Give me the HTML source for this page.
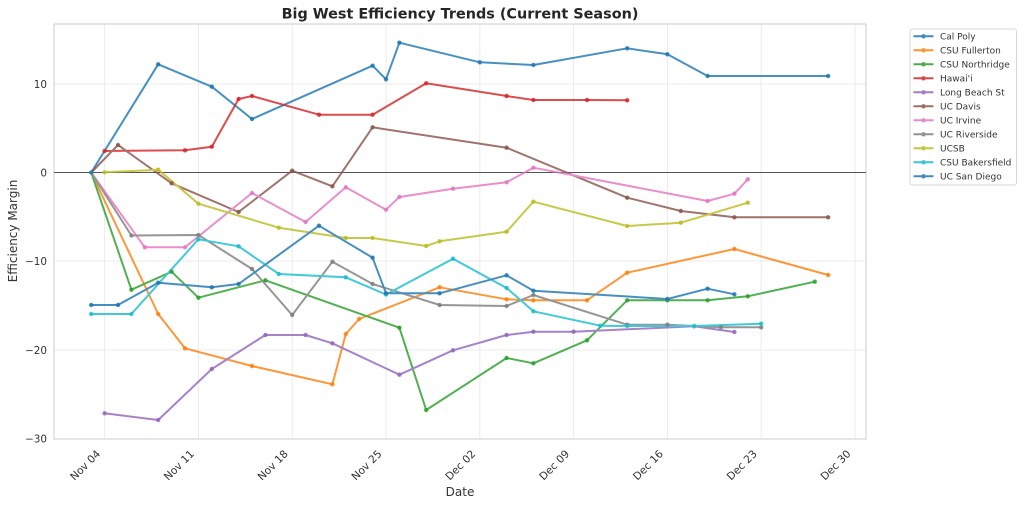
<!DOCTYPE html>
<html><head><meta charset="utf-8"><style>
html,body{margin:0;padding:0;background:#fff;}
svg{display:block;font-family:"DejaVu Sans","Liberation Sans",sans-serif;}
</style></head><body>
<svg width="1024" height="506" viewBox="0 0 1024 506" xmlns="http://www.w3.org/2000/svg">
<rect width="1024" height="506" fill="#fff"/>
<!-- grid -->
<g stroke="#ebebeb" stroke-width="1">
<line x1="104.6" y1="24" x2="104.6" y2="439"/>
<line x1="198.4" y1="24" x2="198.4" y2="439"/>
<line x1="292.2" y1="24" x2="292.2" y2="439"/>
<line x1="386" y1="24" x2="386" y2="439"/>
<line x1="479.8" y1="24" x2="479.8" y2="439"/>
<line x1="573.6" y1="24" x2="573.6" y2="439"/>
<line x1="667.4" y1="24" x2="667.4" y2="439"/>
<line x1="761.2" y1="24" x2="761.2" y2="439"/>
<line x1="855" y1="24" x2="855" y2="439"/>
<line x1="54" y1="84" x2="866" y2="84"/>
<line x1="54" y1="261" x2="866" y2="261"/>
<line x1="54" y1="350" x2="866" y2="350"/>
</g>
<rect x="54" y="24" width="812" height="415" fill="none" stroke="#d6d6d6" stroke-width="1.2"/>
<line x1="54" y1="172.5" x2="866" y2="172.5" stroke="#555" stroke-width="1"/>
<!-- series -->
<g fill="none" stroke-width="2" stroke-linejoin="round" stroke-linecap="round" opacity="0.82">
<polyline stroke="#1f77b4" points="91.2,172.5 158.2,64.3 211.8,86.7 252,119 372.6,65.7 386,79.3 399.4,42.7 479.8,62.3 533.4,65 627.2,48.3 667.4,54.3 707.6,76 828.2,76"/>
</g>
<g fill="none" stroke-width="2" stroke-linejoin="round" stroke-linecap="round" opacity="0.82">
<polyline stroke="#ff7f0e" points="91.2,172.5 158.2,314 185,348.3 252,366 332.4,384.3 345.8,334 359.2,319 439.6,287.3 506.6,299.3 533.4,300.3 587,300.3 627.2,272.7 734.4,249 828.2,275"/>
<polyline stroke="#2ca02c" points="91.2,172.5 131.4,289.7 171.6,271.7 198.4,297.7 265.4,280.3 399.4,327.7 426.2,410 506.6,358 533.4,363.3 587,340.3 627.2,300.3 667.4,300.3 707.6,300.3 747.8,296.3 814.8,281.7"/>
<polyline stroke="#d62728" points="104.6,151 185,150.3 211.8,146.7 238.6,99 252,96 319,114.7 372.6,114.7 426.2,83.3 506.6,96 533.4,100 587,100 627.2,100.3"/>
<polyline stroke="#9467bd" points="104.6,413.3 158.2,420 211.8,369 265.4,335 305.6,335 332.4,343.3 399.4,374.7 453,350.3 506.6,335 533.4,331.7 573.6,331.7 694.2,326.3 734.4,332"/>
<polyline stroke="#8c564b" points="91.2,172.5 118,145 171.6,183.3 238.6,212 292.2,170.7 332.4,186.3 372.6,127.3 506.6,147.7 627.2,197.7 680.8,211 734.4,217.3 828.2,217.3"/>
<polyline stroke="#e377c2" points="91.2,172.5 144.8,247.3 185,247.3 252,193 305.6,222 345.8,187.3 386,209.7 399.4,197 453,188.7 506.6,182.3 533.4,167.7 707.6,201 734.4,193.7 747.8,179.3"/>
<polyline stroke="#7f7f7f" points="91.2,172.5 131.4,235.5 198.4,235 252,269 292.2,315 332.4,261.7 372.6,284 439.6,305 506.6,306 533.4,295 627.2,324.7 667.4,324.7 721,327.3 761.2,327.3"/>
<polyline stroke="#bcbd22" points="104.6,172.3 158.2,169.7 198.4,203.7 278.8,227.7 345.8,238 372.6,238 426.2,246 439.6,241.3 506.6,231.7 533.4,201.7 627.2,226 680.8,222.7 747.8,202.7"/>
<polyline stroke="#17becf" points="91.2,314 131.4,314 198.4,239.3 238.6,246.3 278.8,274 345.8,277.3 386,294.5 453,258.7 506.6,288 533.4,311.3 600.4,325.7 627.2,326 694.2,326 761.2,323.7"/>
<polyline stroke="#1f77b4" points="91.2,305 118,305 158.2,282.7 211.8,287.3 238.6,284 319,225.7 372.6,257.7 386,293.3 439.6,293.3 506.6,275.3 533.4,290.7 667.4,299 707.6,288.7 734.4,294.3"/>
</g>
<!-- markers -->
<g opacity="0.85">
<g fill="#1f77b4"><circle cx="91.2" cy="172.5" r="2.2"/><circle cx="158.2" cy="64.3" r="2.2"/><circle cx="211.8" cy="86.7" r="2.2"/><circle cx="252" cy="119" r="2.2"/><circle cx="372.6" cy="65.7" r="2.2"/><circle cx="386" cy="79.3" r="2.2"/><circle cx="399.4" cy="42.7" r="2.2"/><circle cx="479.8" cy="62.3" r="2.2"/><circle cx="533.4" cy="65" r="2.2"/><circle cx="627.2" cy="48.3" r="2.2"/><circle cx="667.4" cy="54.3" r="2.2"/><circle cx="707.6" cy="76" r="2.2"/><circle cx="828.2" cy="76" r="2.2"/></g>
<g fill="#ff7f0e"><circle cx="158.2" cy="314" r="2.2"/><circle cx="185" cy="348.3" r="2.2"/><circle cx="252" cy="366" r="2.2"/><circle cx="332.4" cy="384.3" r="2.2"/><circle cx="345.8" cy="334" r="2.2"/><circle cx="359.2" cy="319" r="2.2"/><circle cx="439.6" cy="287.3" r="2.2"/><circle cx="506.6" cy="299.3" r="2.2"/><circle cx="533.4" cy="300.3" r="2.2"/><circle cx="587" cy="300.3" r="2.2"/><circle cx="627.2" cy="272.7" r="2.2"/><circle cx="734.4" cy="249" r="2.2"/><circle cx="828.2" cy="275" r="2.2"/></g>
<g fill="#2ca02c"><circle cx="131.4" cy="289.7" r="2.2"/><circle cx="171.6" cy="271.7" r="2.2"/><circle cx="198.4" cy="297.7" r="2.2"/><circle cx="265.4" cy="280.3" r="2.2"/><circle cx="399.4" cy="327.7" r="2.2"/><circle cx="426.2" cy="410" r="2.2"/><circle cx="506.6" cy="358" r="2.2"/><circle cx="533.4" cy="363.3" r="2.2"/><circle cx="587" cy="340.3" r="2.2"/><circle cx="627.2" cy="300.3" r="2.2"/><circle cx="667.4" cy="300.3" r="2.2"/><circle cx="707.6" cy="300.3" r="2.2"/><circle cx="747.8" cy="296.3" r="2.2"/><circle cx="814.8" cy="281.7" r="2.2"/></g>
<g fill="#d62728"><circle cx="104.6" cy="151" r="2.2"/><circle cx="185" cy="150.3" r="2.2"/><circle cx="211.8" cy="146.7" r="2.2"/><circle cx="238.6" cy="99" r="2.2"/><circle cx="252" cy="96" r="2.2"/><circle cx="319" cy="114.7" r="2.2"/><circle cx="372.6" cy="114.7" r="2.2"/><circle cx="426.2" cy="83.3" r="2.2"/><circle cx="506.6" cy="96" r="2.2"/><circle cx="533.4" cy="100" r="2.2"/><circle cx="587" cy="100" r="2.2"/><circle cx="627.2" cy="100.3" r="2.2"/></g>
<g fill="#9467bd"><circle cx="104.6" cy="413.3" r="2.2"/><circle cx="158.2" cy="420" r="2.2"/><circle cx="211.8" cy="369" r="2.2"/><circle cx="265.4" cy="335" r="2.2"/><circle cx="305.6" cy="335" r="2.2"/><circle cx="332.4" cy="343.3" r="2.2"/><circle cx="399.4" cy="374.7" r="2.2"/><circle cx="453" cy="350.3" r="2.2"/><circle cx="506.6" cy="335" r="2.2"/><circle cx="533.4" cy="331.7" r="2.2"/><circle cx="573.6" cy="331.7" r="2.2"/><circle cx="694.2" cy="326.3" r="2.2"/><circle cx="734.4" cy="332" r="2.2"/></g>
<g fill="#8c564b"><circle cx="118" cy="145" r="2.2"/><circle cx="171.6" cy="183.3" r="2.2"/><circle cx="238.6" cy="212" r="2.2"/><circle cx="292.2" cy="170.7" r="2.2"/><circle cx="332.4" cy="186.3" r="2.2"/><circle cx="372.6" cy="127.3" r="2.2"/><circle cx="506.6" cy="147.7" r="2.2"/><circle cx="627.2" cy="197.7" r="2.2"/><circle cx="680.8" cy="211" r="2.2"/><circle cx="734.4" cy="217.3" r="2.2"/><circle cx="828.2" cy="217.3" r="2.2"/></g>
<g fill="#e377c2"><circle cx="144.8" cy="247.3" r="2.2"/><circle cx="185" cy="247.3" r="2.2"/><circle cx="252" cy="193" r="2.2"/><circle cx="305.6" cy="222" r="2.2"/><circle cx="345.8" cy="187.3" r="2.2"/><circle cx="386" cy="209.7" r="2.2"/><circle cx="399.4" cy="197" r="2.2"/><circle cx="453" cy="188.7" r="2.2"/><circle cx="506.6" cy="182.3" r="2.2"/><circle cx="533.4" cy="167.7" r="2.2"/><circle cx="707.6" cy="201" r="2.2"/><circle cx="734.4" cy="193.7" r="2.2"/><circle cx="747.8" cy="179.3" r="2.2"/></g>
<g fill="#7f7f7f"><circle cx="131.4" cy="235.5" r="2.2"/><circle cx="198.4" cy="235" r="2.2"/><circle cx="252" cy="269" r="2.2"/><circle cx="292.2" cy="315" r="2.2"/><circle cx="332.4" cy="261.7" r="2.2"/><circle cx="372.6" cy="284" r="2.2"/><circle cx="439.6" cy="305" r="2.2"/><circle cx="506.6" cy="306" r="2.2"/><circle cx="533.4" cy="295" r="2.2"/><circle cx="627.2" cy="324.7" r="2.2"/><circle cx="667.4" cy="324.7" r="2.2"/><circle cx="721" cy="327.3" r="2.2"/><circle cx="761.2" cy="327.3" r="2.2"/></g>
<g fill="#bcbd22"><circle cx="104.6" cy="172.3" r="2.2"/><circle cx="158.2" cy="169.7" r="2.2"/><circle cx="198.4" cy="203.7" r="2.2"/><circle cx="278.8" cy="227.7" r="2.2"/><circle cx="345.8" cy="238" r="2.2"/><circle cx="372.6" cy="238" r="2.2"/><circle cx="426.2" cy="246" r="2.2"/><circle cx="439.6" cy="241.3" r="2.2"/><circle cx="506.6" cy="231.7" r="2.2"/><circle cx="533.4" cy="201.7" r="2.2"/><circle cx="627.2" cy="226" r="2.2"/><circle cx="680.8" cy="222.7" r="2.2"/><circle cx="747.8" cy="202.7" r="2.2"/></g>
<g fill="#17becf"><circle cx="91.2" cy="314" r="2.2"/><circle cx="131.4" cy="314" r="2.2"/><circle cx="198.4" cy="239.3" r="2.2"/><circle cx="238.6" cy="246.3" r="2.2"/><circle cx="278.8" cy="274" r="2.2"/><circle cx="345.8" cy="277.3" r="2.2"/><circle cx="386" cy="294.5" r="2.2"/><circle cx="453" cy="258.7" r="2.2"/><circle cx="506.6" cy="288" r="2.2"/><circle cx="533.4" cy="311.3" r="2.2"/><circle cx="600.4" cy="325.7" r="2.2"/><circle cx="627.2" cy="326" r="2.2"/><circle cx="694.2" cy="326" r="2.2"/><circle cx="761.2" cy="323.7" r="2.2"/></g>
<g fill="#1f77b4"><circle cx="91.2" cy="305" r="2.2"/><circle cx="118" cy="305" r="2.2"/><circle cx="158.2" cy="282.7" r="2.2"/><circle cx="211.8" cy="287.3" r="2.2"/><circle cx="238.6" cy="284" r="2.2"/><circle cx="319" cy="225.7" r="2.2"/><circle cx="372.6" cy="257.7" r="2.2"/><circle cx="386" cy="293.3" r="2.2"/><circle cx="439.6" cy="293.3" r="2.2"/><circle cx="506.6" cy="275.3" r="2.2"/><circle cx="533.4" cy="290.7" r="2.2"/><circle cx="667.4" cy="299" r="2.2"/><circle cx="707.6" cy="288.7" r="2.2"/><circle cx="734.4" cy="294.3" r="2.2"/></g>
</g>
<!-- y ticks -->
<g font-size="10.4" fill="#333" text-anchor="end">
<text x="47" y="87.8">10</text>
<text x="47" y="176.3">0</text>
<text x="47" y="264.8">−10</text>
<text x="47" y="353.8">−20</text>
<text x="47" y="442.5">−30</text>
</g>
<!-- x ticks -->
<g font-size="10.6" fill="#333" text-anchor="end">
<text transform="translate(101,454.5) rotate(-45)">Nov 04</text>
<text transform="translate(194.8,454.5) rotate(-45)">Nov 11</text>
<text transform="translate(288.6,454.5) rotate(-45)">Nov 18</text>
<text transform="translate(382.4,454.5) rotate(-45)">Nov 25</text>
<text transform="translate(476.2,454.5) rotate(-45)">Dec 02</text>
<text transform="translate(570,454.5) rotate(-45)">Dec 09</text>
<text transform="translate(663.8,454.5) rotate(-45)">Dec 16</text>
<text transform="translate(757.6,454.5) rotate(-45)">Dec 23</text>
<text transform="translate(851.4,454.5) rotate(-45)">Dec 30</text>
</g>
<text x="460" y="496" font-size="12" fill="#333" text-anchor="middle">Date</text>
<text transform="translate(17,231) rotate(-90)" font-size="12" fill="#333" text-anchor="middle">Efficiency Margin</text>
<text x="460" y="18.5" font-size="14.4" font-weight="bold" fill="#262626" text-anchor="middle">Big West Efficiency Trends (Current Season)</text>
<!-- legend -->
<rect x="910" y="29" width="106.5" height="156" rx="2.5" fill="#fff" stroke="#d6d6d6" stroke-width="1"/>
<g stroke-width="2" opacity="0.85">
<line x1="913.5" y1="36.3" x2="933.5" y2="36.3" stroke="#1f77b4"/>
<line x1="913.5" y1="50.3" x2="933.5" y2="50.3" stroke="#ff7f0e"/>
<line x1="913.5" y1="64.3" x2="933.5" y2="64.3" stroke="#2ca02c"/>
<line x1="913.5" y1="78.3" x2="933.5" y2="78.3" stroke="#d62728"/>
<line x1="913.5" y1="92.3" x2="933.5" y2="92.3" stroke="#9467bd"/>
<line x1="913.5" y1="106.3" x2="933.5" y2="106.3" stroke="#8c564b"/>
<line x1="913.5" y1="120.3" x2="933.5" y2="120.3" stroke="#e377c2"/>
<line x1="913.5" y1="134.3" x2="933.5" y2="134.3" stroke="#7f7f7f"/>
<line x1="913.5" y1="148.3" x2="933.5" y2="148.3" stroke="#bcbd22"/>
<line x1="913.5" y1="162.3" x2="933.5" y2="162.3" stroke="#17becf"/>
<line x1="913.5" y1="176.3" x2="933.5" y2="176.3" stroke="#1f77b4"/>
<circle cx="923.5" cy="36.3" r="2.2" fill="#1f77b4" stroke="none"/>
<circle cx="923.5" cy="50.3" r="2.2" fill="#ff7f0e" stroke="none"/>
<circle cx="923.5" cy="64.3" r="2.2" fill="#2ca02c" stroke="none"/>
<circle cx="923.5" cy="78.3" r="2.2" fill="#d62728" stroke="none"/>
<circle cx="923.5" cy="92.3" r="2.2" fill="#9467bd" stroke="none"/>
<circle cx="923.5" cy="106.3" r="2.2" fill="#8c564b" stroke="none"/>
<circle cx="923.5" cy="120.3" r="2.2" fill="#e377c2" stroke="none"/>
<circle cx="923.5" cy="134.3" r="2.2" fill="#7f7f7f" stroke="none"/>
<circle cx="923.5" cy="148.3" r="2.2" fill="#bcbd22" stroke="none"/>
<circle cx="923.5" cy="162.3" r="2.2" fill="#17becf" stroke="none"/>
<circle cx="923.5" cy="176.3" r="2.2" fill="#1f77b4" stroke="none"/>
</g>
<g font-size="9" fill="#333">
<text x="940" y="39.5">Cal Poly</text>
<text x="940" y="53.5">CSU Fullerton</text>
<text x="940" y="67.5">CSU Northridge</text>
<text x="940" y="81.5">Hawai'i</text>
<text x="940" y="95.5">Long Beach St</text>
<text x="940" y="109.5">UC Davis</text>
<text x="940" y="123.5">UC Irvine</text>
<text x="940" y="137.5">UC Riverside</text>
<text x="940" y="151.5">UCSB</text>
<text x="940" y="165.5">CSU Bakersfield</text>
<text x="940" y="179.5">UC San Diego</text>
</g>
</svg>
</body></html>
